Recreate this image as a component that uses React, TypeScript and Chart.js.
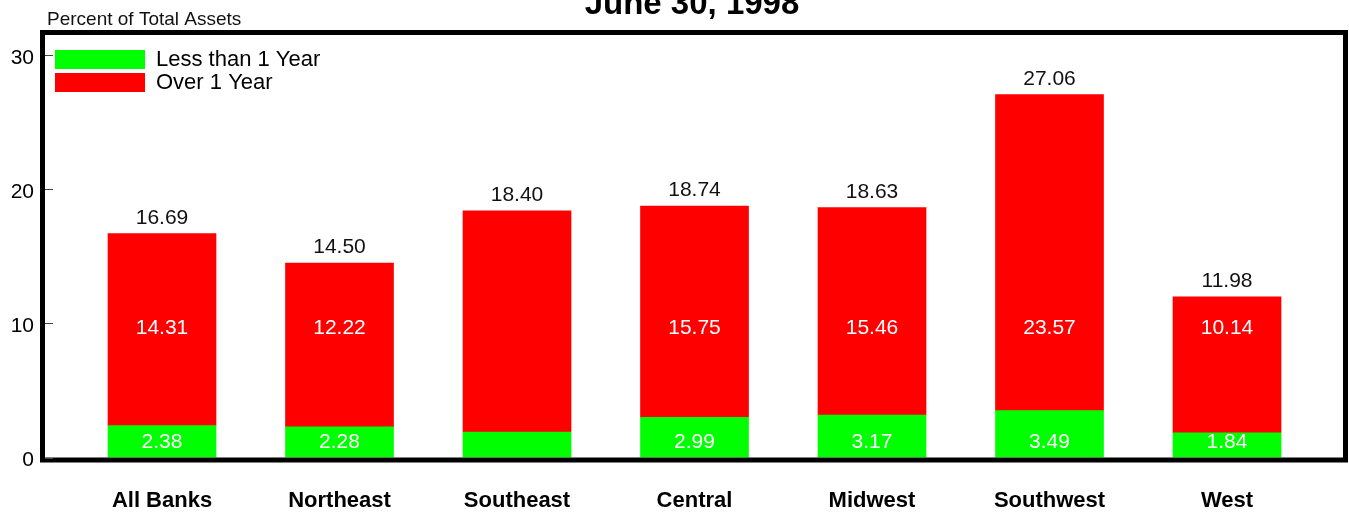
import React, { useEffect, useRef } from "react";
import { Chart, registerables } from "chart.js";

Chart.register(...registerables);

const FONT = '"Liberation Sans", Arial, Helvetica, sans-serif';

const categories = ["All Banks", "Northeast", "Southeast", "Central", "Midwest", "Southwest", "West"];
const lessThan1Year = [2.38, 2.28, 1.9, 2.99, 3.17, 3.49, 1.84];
const over1Year = [14.31, 12.22, 16.5, 15.75, 15.46, 23.57, 10.14];
const totals = [16.69, 14.5, 18.4, 18.74, 18.63, 27.06, 11.98];
const showSegmentLabels = [true, true, false, true, true, true, true];
const seriesNames = ["Less than 1 Year", "Over 1 Year"];
const seriesColors = ["#00ff00", "#ff0000"];
const chartTitle = "June 30, 1998";
const yAxisTitle = "Percent of Total Assets";
// value-axis heights at which the segment labels are printed (as in the source)
const segmentLabelLevels = [1.23, 9.72];

const annotatePlugin = {
  id: "annotate",
  afterLayout(chart: any) {
    const a = chart.chartArea;
    if (chart.legend) {
      chart.legend.left = a.left + 9;
      chart.legend.top = a.top + 12.5;
    }
  },
  afterDraw(chart: any) {
    const { ctx, chartArea: a, scales } = chart;
    const y = scales.y;
    ctx.save();
    // frame
    ctx.lineWidth = 5;
    ctx.strokeStyle = "#000";
    ctx.strokeRect(a.left - 2.5, a.top - 2.5, a.right - a.left + 5, a.bottom - a.top + 5);
    // inner tick marks
    ctx.lineWidth = 1;
    ctx.strokeStyle = "#444";
    y.ticks.forEach((t: any) => {
      const py = Math.round(y.getPixelForValue(t.value)) + 0.5;
      ctx.beginPath();
      ctx.moveTo(a.left, py);
      ctx.lineTo(a.left + 8, py);
      ctx.stroke();
    });
    // title
    ctx.fillStyle = "#000";
    ctx.font = `bold 33px ${FONT}`;
    ctx.textAlign = "center";
    ctx.textBaseline = "alphabetic";
    ctx.fillText(chartTitle, (a.left + a.right) / 2 - 2, 14);
    // y axis title
    ctx.font = `19px ${FONT}`;
    ctx.fillStyle = "#111";
    ctx.textAlign = "left";
    ctx.fillText(yAxisTitle, 47, 25);
    // totals
    const topMeta = chart.getDatasetMeta(1);
    ctx.font = `21px ${FONT}`;
    ctx.textAlign = "center";
    ctx.textBaseline = "alphabetic";
    ctx.fillStyle = "#111";
    totals.forEach((t, i) => {
      const el = topMeta.data[i];
      ctx.fillText(t.toFixed(2), el.x, y.getPixelForValue(t) - 10);
    });
    // segment labels
    ctx.fillStyle = "#fff";
    ctx.textBaseline = "middle";
    [lessThan1Year, over1Year].forEach((vals, d) => {
      const meta = chart.getDatasetMeta(d);
      vals.forEach((v, i) => {
        if (!showSegmentLabels[i]) return;
        const el = meta.data[i];
        ctx.fillText(v.toFixed(2), el.x, y.getPixelForValue(segmentLabelLevels[d]) + 1);
      });
    });
    ctx.restore();
  },
};

export default function App() {
  const ref = useRef<HTMLCanvasElement>(null);
  useEffect(() => {
    const chart = new Chart(ref.current as HTMLCanvasElement, {
      type: "bar",
      data: {
        datasets: [lessThan1Year, over1Year].map((vals, d) => ({
          label: seriesNames[d],
          data: vals.map((v, i) => ({ x: i, y: v })),
          backgroundColor: seriesColors[d],
          borderColor: seriesColors[d],
          borderWidth: 0,
          barThickness: 108,
          stack: "s",
        })),
      },
      options: {
        animation: false,
        responsive: true,
        maintainAspectRatio: false,
        layout: { padding: { top: 35, right: 6, left: 0, bottom: 0 } },
        plugins: {
          tooltip: { enabled: false },
          legend: {
            position: "chartArea",
            align: "start",
            labels: {
              boxWidth: 90,
              boxHeight: 19,
              padding: 1,
              color: "#000",
              font: { family: FONT, size: 22 },
            },
          },
        },
        scales: {
          x: {
            type: "linear",
            min: -0.6592,
            max: 6.6535,
            offset: false,
            stacked: true,
            grid: { display: false },
            border: { display: false },
            ticks: {
              stepSize: 1,
              includeBounds: false,
              autoSkip: false,
              maxRotation: 0,
              padding: 22,
              color: "#000",
              font: { family: FONT, size: 22, weight: "bold" },
              callback: (v: any) => {
                const n = Number(v);
                return Number.isInteger(n) && n >= 0 && n < categories.length ? categories[n] : "";
              },
            },
            afterFit: (s: any) => {
              s.height = 54.5;
            },
          },
          y: {
            type: "linear",
            min: 0,
            max: 31.5,
            stacked: true,
            grid: { display: false, drawTicks: false },
            border: { display: false },
            ticks: {
              stepSize: 10,
              includeBounds: false,
              padding: 11,
              labelOffset: 3,
              color: "#000",
              font: { family: FONT, size: 21 },
            },
            afterFit: (s: any) => {
              s.width = 45;
            },
          },
        },
      } as any,
      plugins: [annotatePlugin],
    });
    return () => chart.destroy();
  }, []);
  return (
    <div style={{ position: "absolute", left: 0, top: 0, width: 1349, height: 512 }}>
      <canvas ref={ref} />
    </div>
  );
}
